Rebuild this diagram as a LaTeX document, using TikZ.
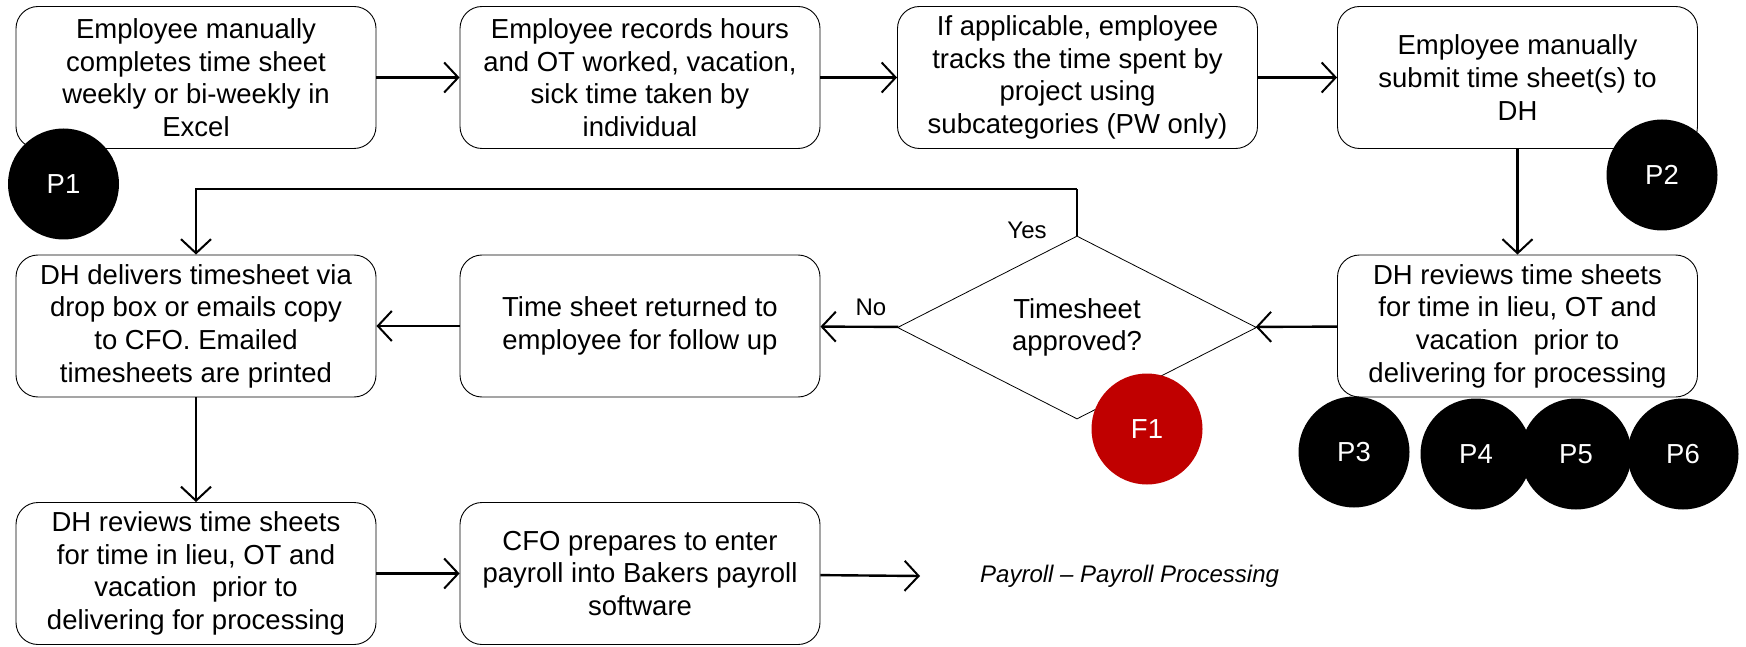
\documentclass[tikz,border=0pt]{standalone}
\usepackage{fontspec}
\setmainfont{Liberation Sans}
\usetikzlibrary{shapes.geometric,arrows.meta}
\begin{document}
\begin{tikzpicture}[x=1pt,y=-1pt,
  box/.style={draw, line width=0.9pt, rounded corners=22pt, minimum width=360pt,
    minimum height=142pt, align=center, inner sep=0pt,
    font=\fontsize{27.5}{32.6}\selectfont},
  dia/.style={draw, diamond, shape aspect=2, line width=0.8pt, minimum width=359pt,
    minimum height=183pt, inner sep=0pt, align=center,
    font=\fontsize{27.5}{32.6}\selectfont},
  conn/.style={line width=2.4pt, -{Straight Barb[length=14pt,width=30pt,line width=2pt]}},
  badge/.style={circle, fill=black, text=white, minimum size=111pt, inner sep=0pt,
    font=\fontsize{27.5}{32}\selectfont},
  lbl/.style={inner sep=0pt, font=\fontsize{24}{28}\selectfont}]
\useasboundingbox (0,0) rectangle (1746,647);
\definecolor{fred}{HTML}{C00000}

% row 1
\node[box] (b1) at (196,77.5) {Employee manually\\completes time sheet\\weekly or bi-weekly in\\Excel};
\node[box] (b2) at (640,77.5) {Employee records hours\\and OT worked, vacation,\\sick time taken by\\individual};
\node[box] (b3) at (1077.5,77.5) {If applicable, employee\\tracks the time spent by\\project using\\subcategories (PW only)};
\node[box] (b4) at (1517.5,77.5) {Employee manually\\submit time sheet(s) to\\DH};

% row 2
\node[box] (deliver) at (196,326) {DH delivers timesheet via\\drop box or emails copy\\to CFO. Emailed\\timesheets are printed};
\node[box] (ret) at (640,326) {Time sheet returned to\\employee for follow up};
\node[dia] (dec) at (1077,327.5) {Timesheet\\approved?};
\node[box] (rev) at (1517.5,326) {DH reviews time sheets\\for time in lieu, OT and\\vacation~ prior to\\delivering for processing};

% row 3
\node[box] (rev2) at (196,573.5) {DH reviews time sheets\\for time in lieu, OT and\\vacation~ prior to\\delivering for processing};
\node[box] (cfo) at (640,573.5) {CFO prepares to enter\\payroll into Bakers payroll\\software};
\node[lbl, anchor=west, font=\fontsize{24}{28}\selectfont\itshape] (pp) at (980,576) {Payroll -- Payroll Processing};
\coordinate (ppend) at (920,576);

% connectors
\draw[conn] (b1) -- (b2);
\draw[conn] (b2) -- (b3);
\draw[conn] (b3) -- (b4);
\draw[conn] (b4) -- (rev);
\draw[conn] (rev) -- (dec);
\draw[conn] (dec) -- (ret);
\draw[conn] (ret) -- (deliver);
\draw[line width=2.4pt] (dec.north) -- (dec.north |- 0,189) coordinate (yc);
\draw[conn] (yc) -| (deliver.north);
\draw[conn] (deliver) -- (rev2);
\draw[conn] (rev2) -- (cfo);
\draw[conn] (cfo) -- (ppend);

\node[lbl] (yes) at (1027,230) {Yes};
\node[lbl] (no) at (871,307) {No};

% badges
\node[badge] (p1) at (63.5,184) {P1};
\node[badge] (p2) at (1662,175) {P2};
\node[badge, fill=fred] (f1) at (1147,429) {F1};
\node[badge] (p3) at (1354,452) {P3};
\node[badge] (p4) at (1476,454) {P4};
\node[badge] (p5) at (1576,454) {P5};
\node[badge] (p6) at (1683,454) {P6};
\end{tikzpicture}
\end{document}
